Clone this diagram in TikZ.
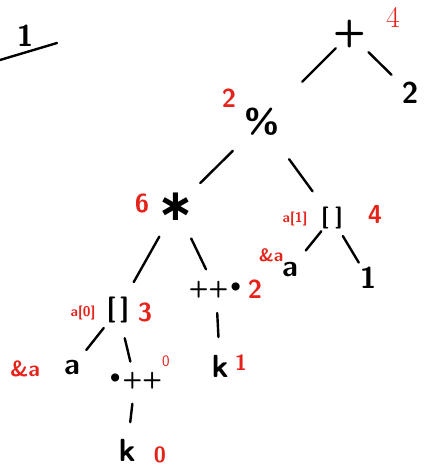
\documentclass[tikz,border=0pt]{standalone}
\usepackage{fontspec}
\newfontfamily\symfont{DejaVu Sans}
\usetikzlibrary{calc}
\definecolor{tagred}{HTML}{E5231B}
\tikzset{
  op/.style={font=\sffamily\bfseries\fontsize{30}{30}\selectfont, inner sep=0pt},
  tag/.style={text=tagred, font=\sffamily\bfseries\fontsize{26}{26}\selectfont, inner sep=0pt},
  tagsmall/.style={text=tagred, font=\sffamily\bfseries\fontsize{14}{14}\selectfont, inner sep=0pt},
  edge/.style={line width=2.4pt, line cap=round},
}

\begin{document}
\begin{tikzpicture}[x=1pt,y=-1pt]
\useasboundingbox (0,0) rectangle (424,468);
% fragment at the top left
\node[op] (oneleft) at (25,36) {1};
\draw[edge] (0,60) -- (57,43);
% operator nodes
\node[op, font=\sffamily\bfseries\fontsize{38}{38}\selectfont] (plus) at (350,34) {+};
\node[op] (two) at (410,93) {2};
\node[op, font=\sffamily\bfseries\fontsize{34}{34}\selectfont] (mod) at (262,122) {\%};
\node[op, font=\symfont\bfseries\fontsize{44}{44}\selectfont] (mul) at (176,207) {∗};
\node[op, font=\sffamily\bfseries\fontsize{22}{22}\selectfont] (idxone) at (332,218) {[\;]};
\node[op] (aone) at (290,270) {a};
\node[op] (one) at (368,278) {1};
\node[op, font=\sffamily\bfseries\fontsize{23}{23}\selectfont] (preinc) at (216,290) {++{\symfont•}};
\node[op, font=\sffamily\bfseries\fontsize{26}{26}\selectfont] (idxzero) at (118,310) {[\,]};
\node[op] (azero) at (72,368) {a};
\node[op, font=\sffamily\bfseries\fontsize{23}{23}\selectfont] (postinc) at (135,381) {{\symfont•}++};
\node[op, font=\sffamily\bfseries\fontsize{32}{32}\selectfont] (kzero) at (127,450) {k};
\node[op, font=\sffamily\bfseries\fontsize{32}{32}\selectfont] (kone) at (220,366) {k};
% red tags
\node[tag, font=\rmfamily\fontsize{30}{30}\selectfont] (tplus) at (393,17) {4};
\foreach \n/\x/\y/\t in {tmod/229/98/2, tmul/142/203/6, tidxone/375/214/4,
    tpreinc/255/289/2, tidxzero/145/312/3}
  \node[tag] (\n) at (\x,\y) {\t};
\node[tag, font=\sffamily\bfseries\fontsize{22}{22}\selectfont] (tkzero) at (160,455) {0};
\node[tag, font=\sffamily\bfseries\fontsize{22}{22}\selectfont] (tkone) at (241,363) {1};
\node[tag, font=\sffamily\fontsize{16}{16}\selectfont] (tpostinc) at (166,361) {0};
\node[tagsmall] (naone) at (295,219) {a[1]};
\node[tagsmall] (nazero) at (83,313) {a[0]};
\node[tag, font=\sffamily\bfseries\fontsize{18}{18}\selectfont] (raone) at (271,255) {\&a};
\node[tag, font=\sffamily\bfseries\fontsize{22}{22}\selectfont] (razero) at (25,369) {\&a};
% tree edges
\draw[edge] ($(plus)!20pt!(mod)$) -- ($(mod)!57pt!(plus)$);
\draw[edge] ($(plus)!26pt!(two)$) -- ($(two)!26pt!(plus)$);
\draw[edge] ($(mod)!41pt!(mul)$) -- ($(mul)!34pt!(mod)$);
\draw[edge] ($(mod)!46pt!(idxone)$) -- ($(idxone)!33pt!(mod)$);
\draw[edge] ($(mul)!34pt!(idxzero)$) -- ($(idxzero)!32pt!(mul)$);
\draw[edge] ($(mul)!35pt!(preinc)$) -- ($(preinc)!23pt!(mul)$);
\draw[edge] ($(idxone)!17pt!(aone)$) -- ($(aone)!25pt!(idxone)$);
\draw[edge] ($(idxone)!21pt!(one)$) -- ($(one)!18pt!(idxone)$);
\draw[edge] ($(idxzero)!23pt!(azero)$) -- ($(azero)!23pt!(idxzero)$);
\draw[edge] ($(idxzero)!29pt!(postinc)$) -- ($(postinc)!20pt!(idxzero)$);
\draw[edge] ($(postinc)!23pt!(kzero)$) -- ($(kzero)!28pt!(postinc)$);
\draw[edge] ($(preinc)!23pt!(kone)$) -- ($(kone)!29pt!(preinc)$);
\end{tikzpicture}
\end{document}
